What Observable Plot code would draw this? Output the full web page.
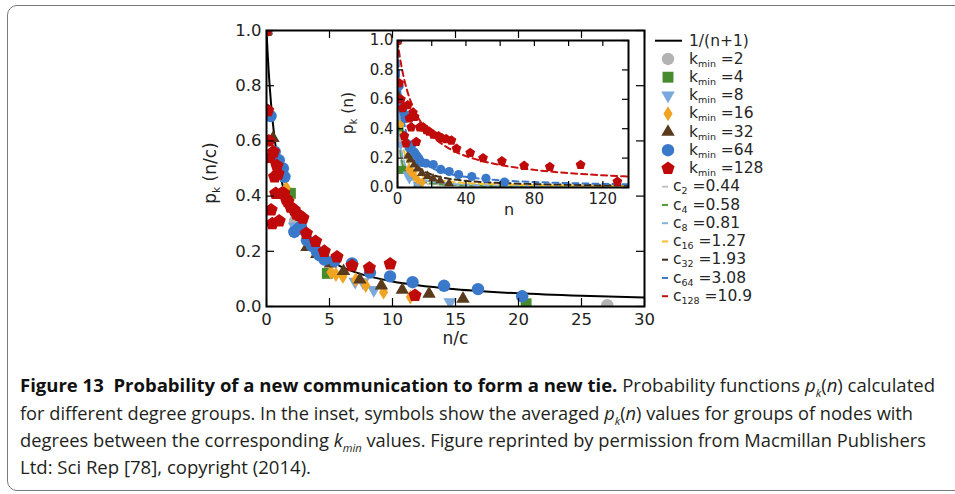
<!DOCTYPE html>
<html><head><meta charset="utf-8">
<script src="https://cdn.jsdelivr.net/npm/d3@7"></script>
<script src="https://cdn.jsdelivr.net/npm/@observablehq/plot@0.6"></script>
<style>
html,body{margin:0;padding:0;background:#fff;}
body{width:955px;height:494px;overflow:hidden;position:relative;font-family:"DejaVu Sans",sans-serif;}
#frame{position:absolute;left:7px;top:5px;width:1000px;height:486px;border:1.4px solid #7a7a7a;border-radius:10px;box-sizing:border-box;}
#main{position:absolute;left:0;top:0;}
#inset{position:absolute;left:337px;top:30px;}
#legend{position:absolute;left:640px;top:0px;}
.cap{position:absolute;left:20px;white-space:nowrap;font-family:"Open Sans","Liberation Sans",sans-serif;font-size:18px;color:#231f20;transform-origin:0 50%;display:inline-block;line-height:20px;}
.cap b{color:#111;font-weight:700;}
</style>
</head><body>
<div id="frame"></div>
<div id="main"></div>
<div id="inset"></div>
<div id="legend"></div>
<span class="cap" id="cap1" style="top:375px"><b>Figure 13&nbsp;&nbsp;Probability of a new communication to form a new tie.</b> Probability functions <i>p<sub style="font-size:11px">k</sub></i>(<i>n</i>) calculated</span>
<span class="cap" id="cap2" style="top:403px">for different degree groups. In the inset, symbols show the averaged <i>p<sub style="font-size:11px">k</sub></i>(<i>n</i>) values for groups of nodes with</span>
<span class="cap" id="cap3" style="top:430px">degrees between the corresponding <i>k<sub style="font-size:11px">min</sub></i> values. Figure reprinted by permission from Macmillan Publishers</span>
<span class="cap" id="cap4" style="top:457px">Ltd: Sci Rep [78], copyright (2014).</span>
<script>
// ---------------- data ----------------
const kminLabels = ["2", "4", "8", "16", "32", "64", "128"];
const cLabels = ["2", "4", "8", "16", "32", "64", "128"];
const cValues = [0.44, 0.58, 0.81, 1.27, 1.93, 3.08, 10.9];

// n (number of previous communications) and p_k(n) per degree group
const n_k2 = [0, 1, 11.9];
const p_k2 = [1.0, 0.31, 0.005];
const n_k4 = [0, 1.1, 2.8, 11.95];
const p_k4 = [1.0, 0.41, 0.12, 0.01];
const n_k8 = [0, 0.95, 1.8, 5.7, 6.2, 6.9, 11.8];
const p_k8 = [1.0, 0.49, 0.29, 0.09, 0.088, 0.06, 0.016];
const n_k16 = [0, 2, 6.5, 7, 7.7, 9, 10, 11.8, 14.5];
const p_k16 = [1.0, 0.43, 0.124, 0.116, 0.109, 0.097, 0.076, 0.052, 0.034];
const n_k32 = [0, 1, 6.2, 7.7, 9.8, 11.8, 14.3, 17.6, 20.8, 24.9, 30.1];
const p_k32 = [1.0, 0.61, 0.215, 0.19, 0.155, 0.128, 0.097, 0.076, 0.06, 0.046, 0.028];
const n_k64 = [0, 1, 2, 3, 4, 4.4, 6.8, 7.7, 8.4, 9.9, 11.1, 12.3, 13, 14.2, 16.6, 20.9, 25.3, 30.2, 35.7, 43.4, 51.7, 62.5];
const p_k64 = [1.0, 0.69, 0.56, 0.53, 0.50, 0.47, 0.27, 0.28, 0.29, 0.24, 0.22, 0.20, 0.185, 0.17, 0.165, 0.156, 0.123, 0.109, 0.088, 0.075, 0.063, 0.037];
const n_k128 = [0, 1, 2, 3, 4, 5, 6, 7, 8, 9, 10, 11, 13, 15, 17, 18.5, 21, 24, 26, 28.5, 31.5, 34.5, 42.5, 50, 61, 74, 89, 107, 128.5];
const p_k128 = [1.0, 0.71, 0.60, 0.54, 0.35, 0.30, 0.56, 0.47, 0.41, 0.51, 0.48, 0.31, 0.41, 0.41, 0.39, 0.38, 0.36, 0.35, 0.335, 0.33, 0.32, 0.265, 0.236, 0.20, 0.18, 0.148, 0.14, 0.154, 0.04];

// dashed curves of the inset
const fitN = [0, 1, 2, 4, 7, 10, 15, 20, 30, 45, 60, 80, 100, 120, 135];
const fit_c2 = [1, 0.3056, 0.1803, 0.0991, 0.0591, 0.0421, 0.0285, 0.0215, 0.0145, 0.0097, 0.0073, 0.0055, 0.0044, 0.0037, 0.0033];
const fit_c4 = [1, 0.3671, 0.2248, 0.1266, 0.0765, 0.0548, 0.0372, 0.0282, 0.0190, 0.0127, 0.0096, 0.0072, 0.0058, 0.0048, 0.0043];
const fit_c8 = [1, 0.4475, 0.2883, 0.1684, 0.1037, 0.0749, 0.0512, 0.0389, 0.0263, 0.0177, 0.0133, 0.0100, 0.0080, 0.0067, 0.0060];
const fit_c16 = [1, 0.5595, 0.3884, 0.2410, 0.1536, 0.1127, 0.0781, 0.0597, 0.0406, 0.0274, 0.0207, 0.0156, 0.0125, 0.0105, 0.0093];
const fit_c32 = [1, 0.6587, 0.4911, 0.3255, 0.2161, 0.1618, 0.1140, 0.0880, 0.0604, 0.0411, 0.0312, 0.0236, 0.0189, 0.0158, 0.0141];
const fit_c64 = [1, 0.7549, 0.6063, 0.4350, 0.3056, 0.2355, 0.1704, 0.1334, 0.0931, 0.0641, 0.0488, 0.0371, 0.0299, 0.0250, 0.0223];
const fit_c128 = [1, 0.9160, 0.8450, 0.7315, 0.6089, 0.5215, 0.4208, 0.3528, 0.2665, 0.1950, 0.1537, 0.1199, 0.0983, 0.0833, 0.0747];

// reference curve 1/(n+1) in the main panel
const refX = [0, 0.1, 0.25, 0.5, 0.75, 1, 1.5, 2, 3, 4, 5, 6, 8, 10, 12, 15, 20, 25, 30];
const refY = [1, 0.909, 0.8, 0.667, 0.571, 0.5, 0.4, 0.333, 0.25, 0.2, 0.167, 0.143, 0.111, 0.0909, 0.0769, 0.0625, 0.0476, 0.0385, 0.0323];

// ticks
const mainXTicks = [0, 5, 10, 15, 20, 25, 30];
const mainYTicks = [0, 0.2, 0.4, 0.6, 0.8, 1.0];
const insetXTicks = [0, 20, 40, 60, 80, 100, 120];
const insetXLabels = [0, 40, 80, 120];
const insetYTicks = [0, 0.2, 0.4, 0.6, 0.8, 1.0];

// ---------------- styles ----------------
const colors = ["#b3b3b3", "#468b2c", "#7aa7dc", "#f0a422", "#5a3a1c", "#3a78c9", "#c00a0a"];
const fitColors = ["#c4c4c4", "#4f9a33", "#86b0e0", "#f2c030", "#3a2a18", "#3a78c9", "#c81010"];

const symPent = {draw(ctx, size){const R=Math.sqrt(size/Math.PI)*1.12;for(let i=0;i<5;i++){const a=-Math.PI/2+i*2*Math.PI/5;const x=R*Math.cos(a),y=R*Math.sin(a);if(i===0)ctx.moveTo(x,y);else ctx.lineTo(x,y);}ctx.closePath();}};
const symTriDown = {draw(ctx, size){const R=Math.sqrt(size/Math.PI)*1.25;ctx.moveTo(0,R);ctx.lineTo(R*0.866,-R*0.5);ctx.lineTo(-R*0.866,-R*0.5);ctx.closePath();}};
const symTriUp = {draw(ctx, size){const R=Math.sqrt(size/Math.PI)*1.25;ctx.moveTo(0,-R);ctx.lineTo(R*0.866,R*0.5);ctx.lineTo(-R*0.866,R*0.5);ctx.closePath();}};
const symThinDiamond = {draw(ctx, size){const R=Math.sqrt(size/Math.PI)*1.2;const w=R*0.62;ctx.moveTo(0,-R);ctx.lineTo(w,0);ctx.lineTo(0,R);ctx.lineTo(-w,0);ctx.closePath();}};
const symSquare = {draw(ctx, size){const h=Math.sqrt(size/Math.PI)*0.88;ctx.rect(-h,-h,2*h,2*h);}};
const symCircle = {draw(ctx, size){const r=Math.sqrt(size/Math.PI);ctx.moveTo(r,0);ctx.arc(0,0,r,0,2*Math.PI);}};
const symbols = [symCircle, symSquare, symTriDown, symThinDiamond, symTriUp, symCircle, symPent];

const nArr = [n_k2, n_k4, n_k8, n_k16, n_k32, n_k64, n_k128];
const pArr = [p_k2, p_k4, p_k8, p_k16, p_k32, p_k64, p_k128];
const fitArr = [fit_c2, fit_c4, fit_c8, fit_c16, fit_c32, fit_c64, fit_c128];
const series = kminLabels.map((k, i) => ({
  k, c: cValues[i],
  rows: nArr[i].map((n, j) => ({n, p: pArr[i][j], x: n / cValues[i]})),
  fit: fitN.map((n, j) => ({n, p: fitArr[i][j]}))
}));

// ---------------- main panel ----------------
const MW = 700, MH = 360, ML = 266, MR = 56, MT = 30, MB = 54;
const mainPW = MW - ML - MR, mainPH = MH - MT - MB;
const mainMarks = [
  Plot.line(refX.map((x, i) => ({x, y: refY[i]})), {x: "x", y: "y", stroke: "#000", strokeWidth: 2, curve: "monotone-x", clip: true}),
  ...series.map((s, i) => Plot.dot(s.rows, {x: "x", y: "p", symbol: symbols[i], r: 6.2, fill: colors[i], stroke: "none", clip: true})),
  Plot.tickX(mainXTicks, {x: d => d, insetTop: mainPH - 8, stroke: "#000", strokeWidth: 1.2}),
  Plot.tickX(mainXTicks, {x: d => d, insetBottom: mainPH - 8, stroke: "#000", strokeWidth: 1.2}),
  Plot.tickY(mainYTicks, {y: d => d, insetRight: mainPW - 8, stroke: "#000", strokeWidth: 1.2}),
  Plot.tickY(mainYTicks, {y: d => d, insetLeft: mainPW - 8, stroke: "#000", strokeWidth: 1.2}),
  Plot.frame({stroke: "#000", strokeWidth: 2}),
  Plot.axisX(mainXTicks, {tickSize: 0, tickPadding: 7, label: null, fontSize: 16.5, tickFormat: d => String(d)}),
  Plot.axisY(mainYTicks, {tickSize: 0, tickPadding: 5, label: null, fontSize: 16.5, tickFormat: d3.format(".1f")}),
  Plot.text(["n/c"], {frameAnchor: "bottom", dy: 37, fontSize: 17, fill: "#222"})
];
const mainSvg = Plot.plot({
  width: MW, height: MH, marginLeft: ML, marginRight: MR, marginTop: MT, marginBottom: MB,
  x: {domain: [0, 30]}, y: {domain: [0, 1]},
  style: {fontFamily: "DejaVu Sans, sans-serif", color: "#222", background: "transparent", overflow: "visible"},
  marks: mainMarks
});
document.getElementById("main").appendChild(mainSvg);

function subLabel(svg, x, y, size, main, sub, rest) {
  const t = d3.select(svg).append("text")
    .attr("transform", `translate(${x},${y}) rotate(-90)`)
    .attr("text-anchor", "middle").attr("y", "0.35em")
    .attr("font-family", "DejaVu Sans, sans-serif").attr("font-size", size).attr("fill", "#222");
  t.append("tspan").text(main);
  t.append("tspan").attr("font-size", size * 0.62).attr("dy", size * 0.22).text(sub);
  t.append("tspan").attr("dy", -size * 0.22).text(rest);
}
subLabel(mainSvg, 210, 173, 17, "p", "k", " (n/c)");

// ---------------- inset ----------------
const IW = 301, IH = 200, IL = 60, IR = 10, IT = 10, IB = 43;
const insPW = IW - IL - IR, insPH = IH - IT - IB;
const insetMarks = [
  Plot.frame({fill: "#fff", stroke: "none"}),
  ...series.map((s, i) => Plot.line(s.fit, {x: "n", y: "p", stroke: fitColors[i], strokeWidth: 2, strokeDasharray: "6,4", curve: "monotone-x", clip: true})),
  ...series.map((s, i) => Plot.dot(s.rows, {x: "n", y: "p", symbol: symbols[i], r: 4.6, fill: colors[i], stroke: "none", clip: true})),
  Plot.tickX(insetXTicks, {x: d => d, insetTop: insPH - 6, stroke: "#000", strokeWidth: 1.2}),
  Plot.tickX(insetXTicks, {x: d => d, insetBottom: insPH - 6, stroke: "#000", strokeWidth: 1.2}),
  Plot.tickY(insetYTicks, {y: d => d, insetRight: insPW - 6, stroke: "#000", strokeWidth: 1.2}),
  Plot.tickY(insetYTicks, {y: d => d, insetLeft: insPW - 6, stroke: "#000", strokeWidth: 1.2}),
  Plot.frame({stroke: "#000", strokeWidth: 2}),
  Plot.axisX(insetXLabels, {tickSize: 0, tickPadding: 6, label: null, fontSize: 15, tickFormat: d => String(d)}),
  Plot.axisY(insetYTicks, {tickSize: 0, tickPadding: 4, label: null, fontSize: 15, tickFormat: d3.format(".1f")}),
  Plot.text(["n"], {frameAnchor: "bottom", dy: 27, dx: -4, fontSize: 16, fill: "#222"})
];
const insetSvg = Plot.plot({
  width: IW, height: IH, marginLeft: IL, marginRight: IR, marginTop: IT, marginBottom: IB,
  x: {domain: [0, 135]}, y: {domain: [0, 1]},
  style: {fontFamily: "DejaVu Sans, sans-serif", color: "#222", background: "transparent", overflow: "visible"},
  marks: insetMarks
});
document.getElementById("inset").appendChild(insetSvg);
subLabel(insetSvg, 11, 83, 15.5, "p", "k", " (n)");

// ---------------- legend ----------------
const lg = d3.select("#legend").append("svg").attr("width", 160).attr("height", 320)
  .attr("font-family", "DejaVu Sans, sans-serif").attr("font-size", 15.5).attr("fill", "#262626");
const ox = 640, step = 18.25, y0 = 40.7;
lg.append("line").attr("x1", 655 - ox).attr("x2", 682 - ox).attr("y1", y0).attr("y2", y0).attr("stroke", "#000").attr("stroke-width", 2);
lg.append("text").attr("x", 689 - ox).attr("y", y0).attr("dy", "0.35em").text("1/(n+1)");
kminLabels.forEach((k, i) => {
  const y = y0 + step * (i + 1);
  lg.append("path").attr("d", d3.symbol(symbols[i], Math.PI * 6.2 * 6.2)()).attr("transform", `translate(${668 - ox},${y})`).attr("fill", colors[i]);
  const t = lg.append("text").attr("x", 689 - ox).attr("y", y).attr("dy", "0.3em");
  t.append("tspan").text("k");
  t.append("tspan").attr("font-size", 9.5).attr("dy", 3).text("min");
  t.append("tspan").attr("dy", -3).text(" =" + k);
});
cLabels.forEach((k, i) => {
  const y = y0 + step * (i + 8);
  lg.append("line").attr("x1", 662 - ox).attr("x2", 668 - ox).attr("y1", y).attr("y2", y).attr("stroke", fitColors[i]).attr("stroke-width", 2);
  const t = lg.append("text").attr("x", 673 - ox).attr("y", y).attr("dy", "0.3em");
  t.append("tspan").text("c");
  t.append("tspan").attr("font-size", 9.5).attr("dy", 3).text(k);
  t.append("tspan").attr("dy", -3).text(" =" + String(cValues[i]));
});

// ---------------- caption line widths ----------------
const capTargets = {cap1: 915, cap2: 893, cap3: 906, cap4: 291};
Object.entries(capTargets).forEach(([id, w]) => {
  const el = document.getElementById(id);
  const nat = el.getBoundingClientRect().width;
  el.style.transform = `scaleX(${w / nat})`;
});
</script>
</body></html>
